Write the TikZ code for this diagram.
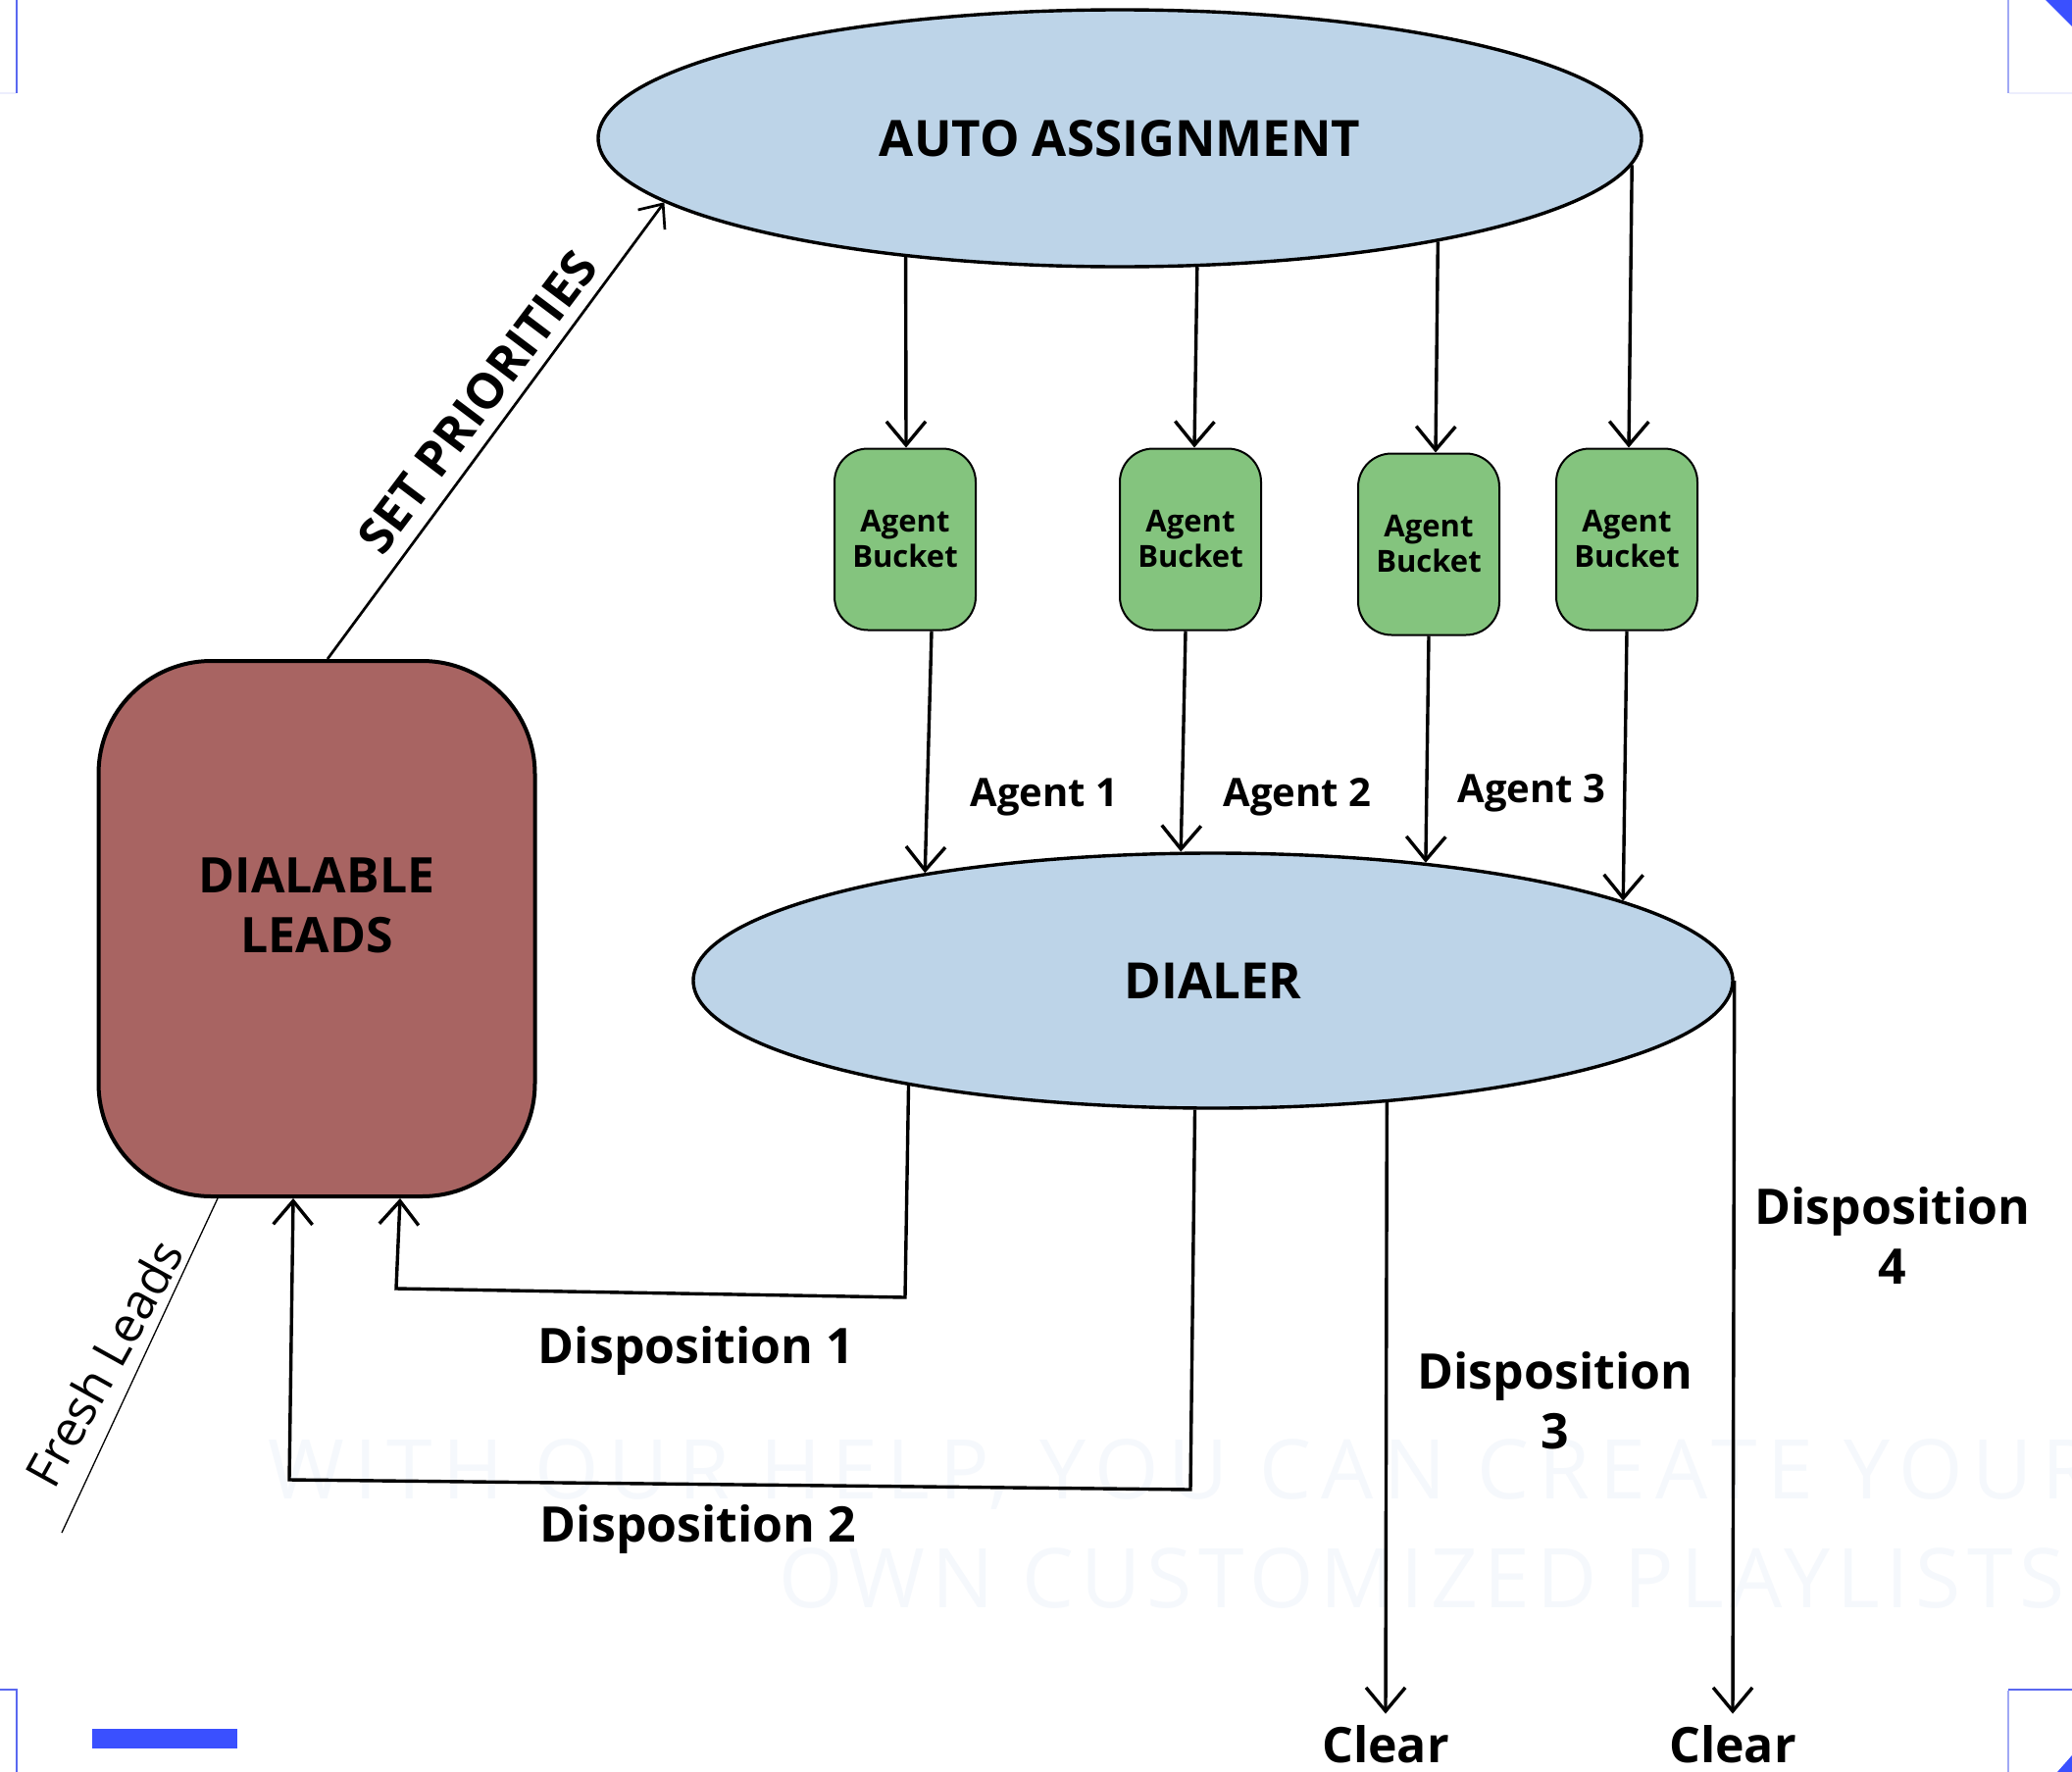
\documentclass[tikz,border=0pt]{standalone}
\usepackage{fontspec}
\setmainfont{Open Sans}
\newfontfamily\wmfonta{Open Sans}[LetterSpace=12]
\newfontfamily\wmfontb{Open Sans}[LetterSpace=8]
\usetikzlibrary{shapes.geometric,arrows.meta,calc}
\definecolor{ellblue}{HTML}{BDD4E8}
\definecolor{bgreen}{HTML}{84C47E}
\definecolor{leadred}{HTML}{A86462}
\definecolor{cblue}{HTML}{3A50FF}
\definecolor{mblue}{HTML}{5A68F0}
\definecolor{lblue}{HTML}{A0A8F5}
\definecolor{fblue}{HTML}{ECEEFD}
\definecolor{wmark}{HTML}{F5F8FC}
\tikzset{
  ell/.style={ellipse, draw, line width=3.4pt, fill=ellblue, inner sep=0pt,
    font=\fontsize{51}{61}\selectfont\bfseries},
  bucket/.style={rectangle, rounded corners=34pt, draw, line width=2pt, fill=bgreen,
    minimum width=144pt, minimum height=185pt, inner sep=0pt, align=center,
    font=\fontsize{31}{36}\selectfont\bfseries},
  leadsbox/.style={rectangle, rounded corners=115pt, draw, line width=4pt, fill=leadred,
    minimum width=445pt, minimum height=546pt, inner sep=0pt},
  boldlab/.style={inner sep=0pt, align=center, font=\fontsize{50}{61}\selectfont\bfseries},
  agentlab/.style={inner sep=0pt, font=\fontsize{40}{48}\selectfont\bfseries},
  freshlab/.style={inner sep=0pt, font=\fontsize{50}{60}\selectfont},
  clearlab/.style={inner xsep=0pt, inner ysep=12pt, font=\fontsize{50}{60}\selectfont\bfseries},
  wm/.style={inner sep=0pt, text=wmark},
  arr/.style={-{Straight Barb[length=24pt,width=40pt]}, line width=3.4pt},
  arrthin/.style={-{Straight Barb[length=20pt,width=34pt]}, line width=2.7pt},
  thinline/.style={line width=1.3pt},
}
\begin{document}
\begin{tikzpicture}[x=1pt,y=-1pt]
\useasboundingbox (0,0) rectangle (2113,1807);
\fill[white] (0,0) rectangle (2113,1807);

% watermark
\node[wm, anchor=east, font=\wmfonta\fontsize{84}{100}\selectfont] (wm1) at (2135,1503) {WITH OUR HELP, YOU CAN CREATE YOUR};
\node[wm, anchor=east, font=\wmfontb\fontsize{84}{100}\selectfont] (wm2) at (2135,1610) {OWN CUSTOMIZED PLAYLISTS.};

% corner marks
\draw[mblue, line width=1.5pt] (17,0) -- (17,95);
\draw[fblue, line width=1.5pt] (0,95) -- (16,95);
\draw[lblue, line width=1.5pt] (2048,0) -- (2048,95);
\draw[fblue, line width=1.5pt] (2049,95) -- (2113,95);
\fill[cblue] (2086,0) -- (2113,0) -- (2113,27) -- cycle;
\draw[mblue, line width=1.5pt] (0,1723) -- (17,1723) -- (17,1807);
\fill[cblue] (94,1763) rectangle (242,1783);
\draw[mblue, line width=1.5pt] (2048,1723) -- (2113,1723);
\draw[lblue, line width=1.5pt] (2048,1724) -- (2048,1807);
\fill[cblue] (2098,1807) -- (2113,1807) -- (2113,1790) -- cycle;

% main nodes
\node[ell, minimum width=1064pt, minimum height=262pt] (auto) at (1142,141) {AUTO ASSIGNMENT};
\node[ell, minimum width=1060pt, minimum height=260pt] (dialer) at (1237,1000) {DIALER};
\node[leadsbox, label={[boldlab, yshift=24pt]center:{DIALABLE\\LEADS}}] (leads) at (323,947) {};

\node[bucket] (b1) at (923,550) {Agent\\Bucket};
\node[bucket] (b2) at (1214,550) {Agent\\Bucket};
\node[bucket] (b3) at (1457,555) {Agent\\Bucket};
\node[bucket] (b4) at (1659,550) {Agent\\Bucket};

% auto -> buckets
\draw[arr] (auto.209) -- ($(b1.north)+(1,0)$);
\draw[arr] (auto.301) -- ($(b2.north)+(4,0)$);
\draw[arr] (auto.342) -- ($(b3.north)+(7,0)$);
\draw[arr] (auto.357) -- ($(b4.north)+(2,0)$);

% buckets -> dialer
\draw[arr] ($(b1.south)+(27,0)$) -- ($(dialer.160)!0.5!(dialer.159)$);
\draw[arr] ($(b2.south)+(-5,0)$) -- (dialer.104);
\draw[arr] (b3.south) -- (dialer.29);
\draw[arr] (b4.south) -- (dialer.11);

\node[agentlab] (a1) at (1065,813) {Agent 1};
\node[agentlab] (a2) at (1323,813) {Agent 2};
\node[agentlab] (a3) at (1562,809) {Agent 3};

% set priorities
\draw[arrthin] ($(leads.north)+(11,0)$) -- (auto.188);
\node[boldlab, rotate=53] (setp) at (487,410) {SET PRIORITIES};

% fresh leads
\coordinate (fl) at (63,1563);
\draw[thinline] ($(leads.south)+(-101,0)$) -- (fl);
\node[freshlab, rotate=61] (fresh) at (106,1390) {Fresh Leads};

% dispositions 1 and 2
\coordinate (d1a) at (923,1323);
\coordinate (d1b) at (404,1314);
\draw[arr] (dialer.199) -- (d1a) -- (d1b) -- ($(leads.south)+(85,0)$);
\coordinate (d2a) at (1214,1519);
\coordinate (d2b) at (295,1509);
\draw[arr] (dialer.262) -- (d2a) -- (d2b) -- ($(leads.south)+(-24,0)$);
\node[boldlab] (l1) at (710,1377) {Disposition 1};
\node[boldlab] (l2) at (712,1559) {Disposition 2};

% dispositions 3 and 4
\node[clearlab] (clear1) at (1413,1779) {Clear};
\node[clearlab] (clear2) at (1767,1779) {Clear};
\draw[arr] (dialer.325) -- (clear1.north);
\draw[arr] (dialer.east) -- (clear2.north);
\node[boldlab] (l3) at (1586,1428) {Disposition\\3};
\node[boldlab] (l4) at (1930,1260) {Disposition\\4};
\end{tikzpicture}
\end{document}
